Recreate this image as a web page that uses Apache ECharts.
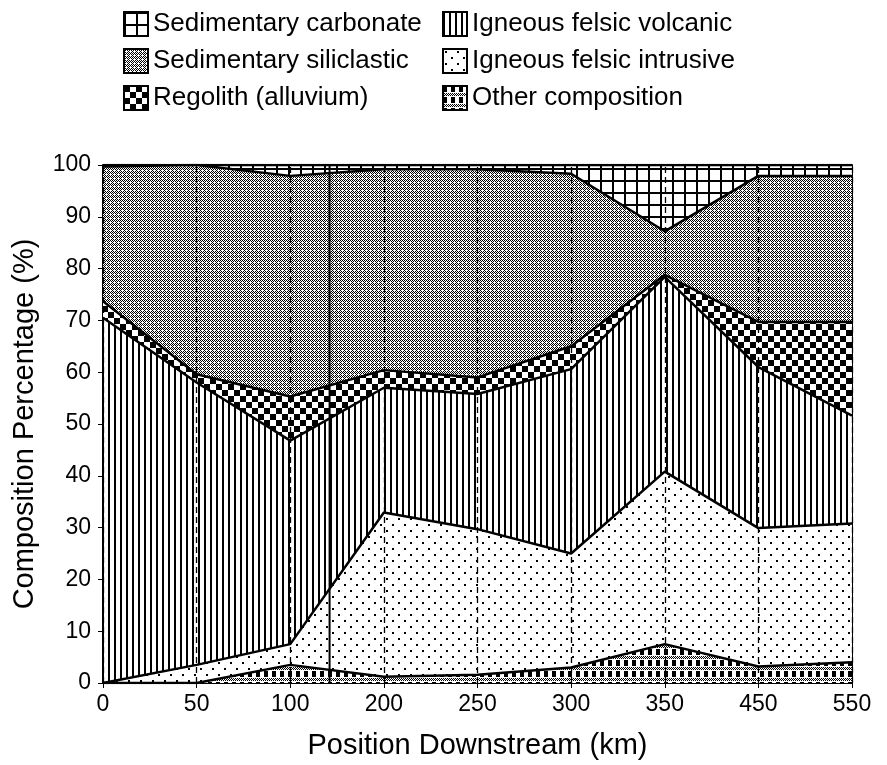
<!DOCTYPE html>
<html>
<head>
<meta charset="utf-8">
<script src="https://cdn.jsdelivr.net/npm/echarts@6/dist/echarts.min.js"></script>
<style>
  html, body { margin: 0; padding: 0; background: #fff; }
  #chart { width: 887px; height: 765px; }
</style>
</head>
<body>
<div id="chart"></div>
<script>
// sample positions along the river (km), plotted evenly spaced
const positions = ['0', '50', '100', '200', '250', '300', '350', '450', '550']

// composition (%) per lithology, bottom of the stack first
const otherComposition = [0, 0, 3.5, 1.2, 1.6, 3.0, 7.5, 3.2, 4.0]
const felsicIntrusive = [0, 3.5, 4.0, 31.7, 28.1, 22.0, 33.3, 26.7, 26.8]
const felsicVolcanic = [70.5, 54.5, 39.3, 24.1, 26.1, 35.6, 37.6, 31.1, 20.8]
const regolith = [3.2, 1.6, 8.5, 3.4, 3.2, 4.4, 0.4, 8.7, 18.1]
const siliclastic = [26.0, 40.4, 42.6, 38.8, 40.2, 33.3, 8.4, 28.2, 28.2]
const carbonate = [0.3, 0, 2.1, 0.8, 0.8, 1.7, 12.8, 2.1, 2.1]

// solid divider drawn between the 100 and 200 km samples (category index)
const dividerAt = 2.42

const FONT = '"Liberation Sans", Arial, Helvetica, sans-serif'

function makePattern(w, h, draw) {
  const c = document.createElement('canvas')
  c.width = w
  c.height = h
  const ctx = c.getContext('2d')
  ctx.fillStyle = '#fff'
  ctx.fillRect(0, 0, w, h)
  ctx.fillStyle = '#000'
  draw(ctx)
  return { image: c, repeat: 'repeat' }
}

function pixelChecker(ctx, y0, y1, w) {
  for (let y = y0; y < y1; y++) {
    for (let x = 0; x < w; x++) {
      if ((x + y) % 2 === 0) ctx.fillRect(x, y, 1, 1)
    }
  }
}

const patterns = {
  carbonate: makePattern(12, 12, ctx => {
    ctx.fillRect(0, 0, 2, 12)
    ctx.fillRect(0, 0, 12, 2)
  }),
  siliclastic: makePattern(4, 4, ctx => {
    pixelChecker(ctx, 0, 4, 4)
    ctx.fillStyle = '#fff'
    ctx.fillRect(2, 2, 1, 1)
  }),
  regolith: makePattern(12, 12, ctx => {
    ctx.fillRect(0, 0, 6, 6)
    ctx.fillRect(6, 6, 6, 6)
  }),
  volcanic: makePattern(6, 6, ctx => {
    ctx.fillRect(0, 0, 2, 6)
  }),
  intrusive: makePattern(12, 12, ctx => {
    ctx.fillRect(2, 2, 2, 2)
    ctx.fillRect(8, 8, 2, 2)
  }),
  other: makePattern(8, 11, ctx => {
    ctx.fillRect(0, 0, 4, 6)
    pixelChecker(ctx, 7, 10, 8)
  })
}

const chart = echarts.init(document.getElementById('chart'))

function layer(name, values, pattern, z) {
  return {
    name: name,
    type: 'line',
    stack: 'total',
    data: values,
    z: z,
    showSymbol: false,
    symbol: 'none',
    itemStyle: { color: pattern },
    lineStyle: { color: '#000', width: 2.5 },
    areaStyle: { color: pattern, opacity: 1 }
  }
}

const series = [
  layer('Other composition', otherComposition, patterns.other, 8),
  layer('Igneous felsic intrusive', felsicIntrusive, patterns.intrusive, 7),
  layer('Igneous felsic volcanic', felsicVolcanic, patterns.volcanic, 6),
  layer('Regolith (alluvium)', regolith, patterns.regolith, 5),
  layer('Sedimentary siliclastic', siliclastic, patterns.siliclastic, 4),
  layer('Sedimentary carbonate', carbonate, patterns.carbonate, 3)
]

// dashed verticals at every sample, drawn over the fills
series[5].markLine = {
  silent: true,
  z: 20,
  symbol: 'none',
  label: { show: false },
  lineStyle: { color: '#000', width: 1.3, type: [6, 4] },
  data: positions.map(p => ({ xAxis: p }))
}

series.push({
  name: 'divider',
  type: 'line',
  xAxisIndex: 1,
  z: 20,
  symbol: 'none',
  lineStyle: { color: '#000', width: 2 },
  data: [[dividerAt, 0], [dividerAt, 100]]
})

const legendCommon = {
  orient: 'vertical',
  top: 6,
  icon: 'rect',
  itemWidth: 24,
  itemHeight: 24,
  itemGap: 11,
  selectedMode: false,
  itemStyle: { borderColor: '#000', borderWidth: 2 },
  textStyle: { fontSize: 26, lineHeight: 24, color: '#000', fontFamily: FONT }
}

const option = {
  animation: false,
  backgroundColor: '#fff',
  textStyle: { fontFamily: FONT },
  legend: [
    Object.assign({}, legendCommon, {
      left: 118,
      data: ['Sedimentary carbonate', 'Sedimentary siliclastic', 'Regolith (alluvium)']
    }),
    Object.assign({}, legendCommon, {
      left: 437,
      data: ['Igneous felsic volcanic', 'Igneous felsic intrusive', 'Other composition']
    })
  ],
  grid: {
    left: 103,
    right: 35,
    top: 165,
    bottom: 82
  },
  xAxis: [
    {
      type: 'category',
      data: positions,
      boundaryGap: false,
      name: 'Position Downstream (km)',
      nameLocation: 'middle',
      nameGap: 48,
      nameTextStyle: { fontSize: 29, color: '#000', fontFamily: FONT },
      axisLine: { lineStyle: { color: '#000', width: 2 } },
      axisTick: { show: true, length: 5, lineStyle: { color: '#000' } },
      axisLabel: { fontSize: 23, color: '#000', margin: 10, fontFamily: FONT },
      splitLine: { show: false }
    },
    {
      type: 'value',
      min: 0,
      max: positions.length - 1,
      show: false
    }
  ],
  yAxis: [
    {
      type: 'value',
      min: 0,
      max: 100,
      interval: 10,
      name: 'Composition Percentage (%)',
      nameLocation: 'middle',
      nameGap: 64,
      nameTextStyle: { fontSize: 29, color: '#000', fontFamily: FONT },
      axisLine: { show: true, lineStyle: { color: '#000', width: 2 } },
      axisTick: { show: true, length: 5, lineStyle: { color: '#000' } },
      axisLabel: { fontSize: 23, color: '#000', margin: 12, fontFamily: FONT },
      splitLine: { show: false }
    },
    {
      type: 'value',
      min: 0,
      max: 100,
      position: 'right',
      axisLine: { show: true, lineStyle: { color: '#000', width: 2 } },
      axisTick: { show: false },
      axisLabel: { show: false },
      splitLine: { show: false }
    }
  ],
  series: series
}

chart.setOption(option)
</script>
</body>
</html>
